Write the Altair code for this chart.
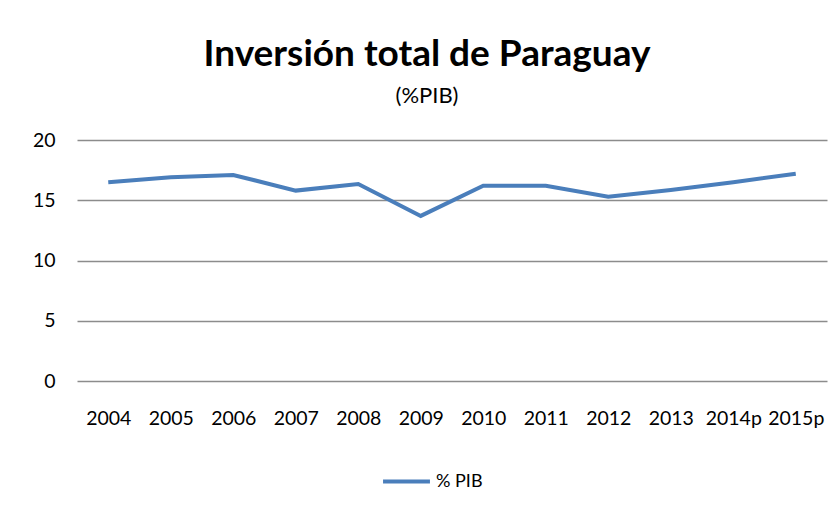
import altair as alt
import pandas as pd

years = ["2004", "2005", "2006", "2007", "2008", "2009", "2010", "2011", "2012", "2013", "2014p", "2015p"]
values = [16.5, 16.9, 17.1, 15.8, 16.35, 13.7, 16.2, 16.2, 15.3, 15.85, 16.5, 17.2]
series = ["% PIB"] * len(years)

df = pd.DataFrame({"year": years, "value": values, "serie": series})

FONT = "Lato"

chart = alt.Chart(df).mark_line(strokeWidth=4).encode(
    x=alt.X("year:N", sort=years, title=None,
            scale=alt.Scale(paddingOuter=0.5),
            axis=alt.Axis(labelAngle=0, ticks=False, domain=False, labelPadding=28,
                          labelFontSize=19.5, labelColor="#000", labelFont=FONT, grid=False)),
    y=alt.Y("value:Q", title=None,
            scale=alt.Scale(domain=[0, 20]),
            axis=alt.Axis(values=[0, 5, 10, 15, 20], ticks=False, domain=False, labelPadding=22,
                          labelFontSize=19.5, labelColor="#000", labelFont=FONT,
                          gridColor="#8c8c8c", gridWidth=1.3)),
    color=alt.Color("serie:N", scale=alt.Scale(range=["#4a7ebb"]),
                    legend=alt.Legend(title=None, orient="none", legendX=304, legendY=316,
                                      symbolType="stroke", symbolStrokeWidth=4, symbolSize=2200,
                                      labelFont=FONT, labelFontSize=18, labelColor="#000",
                                      labelOffset=4)),
).properties(
    width=750,
    height=241,
    title=alt.TitleParams(
        text="Inversión total de Paraguay",
        subtitle="(%PIB)",
        font=FONT, fontSize=37, fontWeight="bold", color="#000",
        subtitleFont=FONT, subtitleFontSize=22, subtitleColor="#000",
        subtitlePadding=12, offset=22, anchor="middle", dx=-25,
    ),
    padding={"left": 69, "top": 132, "right": 5, "bottom": 121},
    autosize=alt.AutoSizeParams(type="none"),
).configure_view(stroke=None)

chart.save("out.html", embed_options={"renderer": "svg", "actions": False})
